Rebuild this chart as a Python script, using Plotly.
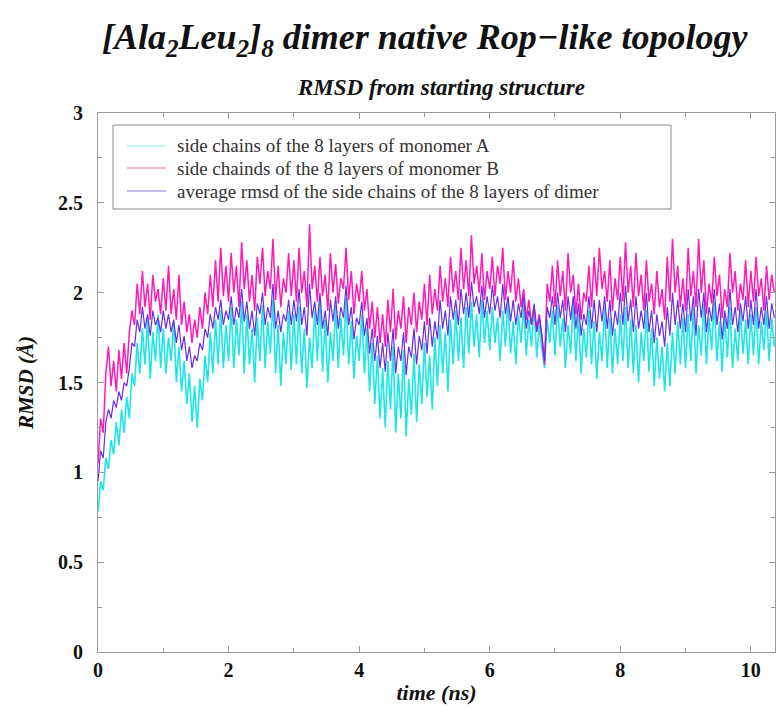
import numpy as np
import plotly.graph_objects as go

# ---------------- data (RMSD in Angstrom, sampled every 0.04 ns) ----------------
TIME_STEP_NS = 0.04

rmsd_monomer_A = [
    0.78, 0.95, 0.90, 1.08, 1.02, 1.18, 1.10, 1.28, 1.15, 1.35, 1.22, 1.42, 1.30, 1.55, 1.48, 1.72, 1.55, 1.80, 1.60, 1.85, 1.52, 1.78, 1.62, 1.88, 1.58,
    1.80, 1.55, 1.75, 1.62, 1.84, 1.50, 1.70, 1.45, 1.62, 1.38, 1.55, 1.28, 1.48, 1.25, 1.52, 1.40, 1.65, 1.50, 1.78, 1.55, 1.85, 1.60, 1.90, 1.58, 1.82,
    1.62, 1.92, 1.58, 1.85, 1.65, 1.95, 1.55, 1.88, 1.60, 1.80, 1.50, 1.86, 1.62, 1.93, 1.58, 1.84, 1.66, 1.96, 1.55, 1.82, 1.48, 1.78, 1.60, 1.90, 1.57,
    1.88, 1.60, 1.92, 1.55, 1.80, 1.47, 1.75, 1.58, 1.90, 1.62, 1.95, 1.56, 1.85, 1.50, 1.78, 1.62, 1.93, 1.58, 1.86, 1.65, 1.97, 1.60, 1.84, 1.52, 1.76,
    1.62, 1.88, 1.55, 1.80, 1.45, 1.72, 1.38, 1.65, 1.30, 1.58, 1.25, 1.62, 1.35, 1.70, 1.22, 1.55, 1.30, 1.68, 1.20, 1.52, 1.32, 1.66, 1.28, 1.60, 1.38,
    1.72, 1.42, 1.65, 1.35, 1.75, 1.48, 1.82, 1.55, 1.78, 1.45, 1.85, 1.60, 1.90, 1.62, 1.86, 1.58, 1.92, 1.66, 1.95, 1.70, 1.88, 1.64, 1.96, 1.72, 1.90,
    1.68, 1.92, 1.72, 1.86, 1.62, 1.90, 1.70, 1.95, 1.66, 1.84, 1.60, 1.88, 1.72, 1.93, 1.65, 1.85, 1.70, 1.92, 1.64, 1.82, 1.68, 1.58, 1.85, 1.72, 1.90,
    1.65, 1.93, 1.70, 1.86, 1.58, 1.82, 1.66, 1.95, 1.62, 1.88, 1.55, 1.80, 1.64, 1.90, 1.60, 1.84, 1.52, 1.78, 1.62, 1.92, 1.58, 1.86, 1.55, 1.80, 1.60,
    1.88, 1.62, 1.92, 1.58, 1.85, 1.55, 1.82, 1.50, 1.78, 1.62, 1.90, 1.56, 1.80, 1.48, 1.75, 1.52, 1.70, 1.45, 1.72, 1.48, 1.78, 1.55, 1.84, 1.60, 1.86,
    1.58, 1.88, 1.62, 1.92, 1.55, 1.82, 1.65, 1.94, 1.60, 1.86, 1.68, 1.95, 1.62, 1.84, 1.56, 1.88, 1.64, 1.92, 1.58, 1.80, 1.62, 1.90, 1.66, 1.85, 1.60,
    1.88, 1.65, 1.92, 1.60, 1.84, 1.68, 1.90, 1.62, 1.86, 1.70,
]

rmsd_monomer_B = [
    1.05, 1.30, 1.22, 1.55, 1.70, 1.48, 1.62, 1.45, 1.68, 1.52, 1.72, 1.55, 1.78, 1.90, 1.82, 2.05, 1.88, 2.12, 1.92, 2.05, 1.85, 2.10, 1.95, 2.02, 1.88,
    2.08, 1.90, 2.15, 1.88, 2.02, 1.85, 2.10, 1.82, 1.95, 1.78, 1.88, 1.72, 1.85, 1.75, 1.92, 1.80, 2.00, 1.88, 2.10, 1.92, 2.18, 1.95, 2.25, 1.98, 2.15,
    1.95, 2.22, 2.00, 2.15, 1.92, 2.28, 2.02, 2.18, 1.95, 2.10, 1.90, 2.20, 2.05, 2.25, 1.98, 2.12, 2.02, 2.30, 1.96, 2.15, 1.92, 2.08, 2.00, 2.22, 1.98,
    2.18, 1.95, 2.25, 2.00, 2.12, 1.92, 2.38, 2.02, 2.15, 1.95, 2.20, 1.98, 2.10, 1.90, 2.22, 2.00, 2.16, 1.94, 2.08, 2.02, 2.25, 1.96, 2.12, 1.88, 2.05,
    1.95, 2.12, 1.90, 2.02, 1.80, 1.95, 1.75, 1.92, 1.72, 1.88, 1.70, 1.96, 1.78, 2.02, 1.74, 1.90, 1.80, 1.98, 1.72, 1.92, 1.82, 2.00, 1.78, 1.95, 1.85,
    2.05, 1.82, 2.10, 1.88, 2.02, 1.90, 2.15, 1.95, 2.08, 1.92, 2.20, 2.00, 2.12, 1.96, 2.25, 2.02, 2.18, 1.98, 2.32, 2.05, 2.15, 2.00, 2.22, 1.96, 2.12,
    2.02, 2.20, 1.98, 2.15, 2.05, 2.25, 1.96, 2.12, 2.00, 2.18, 1.95, 2.08, 1.92, 2.02, 1.85, 1.96, 1.82, 1.92, 1.80, 1.88, 1.75, 1.60, 2.05, 1.95, 2.15,
    1.92, 2.18, 1.98, 2.12, 1.90, 2.22, 2.00, 2.10, 1.88, 2.05, 1.85, 2.00, 1.95, 2.15, 1.92, 2.20, 1.98, 2.25, 2.02, 2.12, 1.95, 2.18, 1.90, 2.08, 1.96,
    2.20, 1.95, 2.28, 2.00, 2.15, 1.92, 2.22, 1.98, 2.10, 1.90, 2.18, 1.95, 2.05, 1.88, 2.12, 1.92, 2.02, 1.85, 2.20, 1.95, 2.30, 2.00, 2.15, 1.92, 2.08,
    1.90, 2.25, 1.98, 2.12, 1.92, 2.30, 2.00, 2.18, 1.88, 2.05, 1.94, 2.20, 1.98, 2.10, 1.86, 2.02, 1.92, 2.22, 2.00, 2.12, 1.90, 2.05, 1.96, 2.18, 1.92,
    2.12, 1.95, 2.20, 1.98, 2.08, 1.90, 2.15, 1.96, 2.10, 2.00,
]

rmsd_dimer_avg = [
    0.95, 1.12, 1.08, 1.28, 1.35, 1.30, 1.40, 1.36, 1.45, 1.40, 1.50, 1.48, 1.58, 1.72, 1.70, 1.85, 1.78, 1.92, 1.80, 1.88, 1.76, 1.90, 1.82, 1.86, 1.78,
    1.90, 1.80, 1.88, 1.78, 1.85, 1.72, 1.82, 1.68, 1.76, 1.62, 1.70, 1.58, 1.65, 1.62, 1.72, 1.68, 1.80, 1.75, 1.88, 1.80, 1.92, 1.85, 1.96, 1.82, 1.90,
    1.85, 1.98, 1.82, 1.92, 1.86, 2.02, 1.84, 1.95, 1.80, 1.90, 1.76, 1.94, 1.88, 2.00, 1.82, 1.92, 1.86, 2.05, 1.80, 1.90, 1.78, 1.88, 1.84, 1.96, 1.82,
    1.96, 1.84, 2.02, 1.82, 1.92, 1.76, 2.05, 1.86, 1.95, 1.82, 2.00, 1.80, 1.90, 1.76, 1.96, 1.84, 1.98, 1.80, 1.92, 1.86, 2.04, 1.82, 1.92, 1.74, 1.86,
    1.82, 1.95, 1.76, 1.86, 1.66, 1.80, 1.62, 1.76, 1.58, 1.72, 1.56, 1.78, 1.62, 1.80, 1.55, 1.70, 1.62, 1.78, 1.54, 1.70, 1.64, 1.80, 1.60, 1.76, 1.68,
    1.84, 1.66, 1.86, 1.70, 1.84, 1.74, 1.96, 1.80, 1.90, 1.76, 1.98, 1.85, 1.96, 1.82, 2.02, 1.88, 2.00, 1.86, 2.06, 1.92, 1.98, 1.88, 2.04, 1.86, 1.98,
    1.88, 2.04, 1.90, 1.98, 1.86, 2.05, 1.88, 1.98, 1.84, 1.96, 1.82, 1.94, 1.86, 1.98, 1.80, 1.90, 1.82, 1.94, 1.78, 1.86, 1.76, 1.62, 1.92, 1.86, 1.98,
    1.82, 2.00, 1.86, 1.96, 1.78, 1.98, 1.85, 1.98, 1.80, 1.94, 1.76, 1.88, 1.82, 1.98, 1.80, 1.96, 1.78, 1.96, 1.84, 1.98, 1.80, 1.96, 1.76, 1.90, 1.82,
    2.00, 1.82, 2.04, 1.84, 1.96, 1.78, 1.98, 1.80, 1.90, 1.80, 2.00, 1.78, 1.90, 1.72, 1.88, 1.76, 1.84, 1.70, 1.92, 1.76, 2.00, 1.82, 1.96, 1.80, 1.94,
    1.78, 2.02, 1.84, 1.98, 1.76, 2.02, 1.86, 2.00, 1.78, 1.92, 1.84, 2.02, 1.82, 1.94, 1.74, 1.90, 1.80, 2.02, 1.82, 1.92, 1.78, 1.94, 1.84, 1.98, 1.80,
    1.96, 1.82, 2.02, 1.80, 1.92, 1.82, 1.98, 1.80, 1.94, 1.86,
]

time_ns = np.arange(len(rmsd_monomer_A)) * TIME_STEP_NS

series_names = [
    "side chains of the 8 layers of monomer A",
    "side chainds of the 8 layers of monomer B",
    "average rmsd of the side chains of the 8 layers of dimer",
]
x_tick_vals = [0, 2, 4, 6, 8, 10]
y_tick_vals = [0, 0.5, 1, 1.5, 2, 2.5, 3]
y_tick_text = ["0", "0.5", "1", "1.5", "2", "2.5", "3"]

# ---------------- styling ----------------
SERIF = "Liberation Serif"
line_colors = ["#1ee6e6", "#ff1ab8", "#6a2ee0"]
legend_colors = ["#c4f2f2", "#f7b8da", "#c2bae8"]
line_widths = [1.6, 1.5, 1.2]

# plot-area geometry in pixels (used to place layout decorations)
L, T, R, B = 98, 113, 1, 64
W, H = 776, 716
PW, PH = W - L - R, H - T - B


def px_x(px):
    return (px - L) / PW


def px_y(py):
    return (H - B - py) / PH


fig = go.Figure()
for ys, col, w, name in zip([rmsd_monomer_A, rmsd_monomer_B, rmsd_dimer_avg],
                            line_colors, line_widths, series_names):
    fig.add_trace(go.Scatter(x=time_ns, y=ys, mode="lines", name=name,
                             line=dict(color=col, width=w), showlegend=False,
                             hovertemplate="%{x:.2f} ns, %{y:.2f} Å<extra></extra>"))

axis_line = "#9a9a9a"
fig.update_layout(
    width=W, height=H,
    margin=dict(l=L, r=R, t=T, b=B),
    paper_bgcolor="white", plot_bgcolor="white",
    font=dict(family=SERIF, color="#111"),
    showlegend=False,
    xaxis=dict(range=[0, 10.37], tickvals=x_tick_vals,
               ticks="inside", ticklen=6, tickcolor=axis_line,
               minor=dict(dtick=1, ticks="inside", ticklen=4, tickcolor=axis_line),
               showline=True, linecolor=axis_line, linewidth=1, mirror="ticks",
               showgrid=False, zeroline=False,
               tickfont=dict(family=SERIF, size=20, color="#111", weight="bold"),
               title=dict(text="<b><i>time (ns)</i></b>", standoff=4,
                          font=dict(family=SERIF, size=22, color="#111"))),
    yaxis=dict(range=[0, 3], tickvals=y_tick_vals, ticktext=y_tick_text,
               ticks="inside", ticklen=6, tickcolor=axis_line,
               minor=dict(dtick=0.25, ticks="inside", ticklen=4, tickcolor=axis_line),
               showline=True, linecolor=axis_line, linewidth=1, mirror="ticks",
               showgrid=False, zeroline=False,
               tickfont=dict(family=SERIF, size=20, color="#111", weight="bold"),
               ticklabelstandoff=10,
               title=dict(text="<b><i>RMSD (Å)</i></b>", standoff=18,
                          font=dict(family=SERIF, size=21, color="#111"))),
)

# legend: frame, sample lines and labels
fig.add_shape(type="rect", xref="paper", yref="paper",
              x0=px_x(113), x1=px_x(671), y0=px_y(209), y1=px_y(125),
              line=dict(color="#8a8a8a", width=1), fillcolor="white", layer="above")
legend_rows_px = [146, 168, 191]
for name, col, ry in zip(series_names, legend_colors, legend_rows_px):
    fig.add_shape(type="line", xref="paper", yref="paper",
                  x0=px_x(127), x1=px_x(166), y0=px_y(ry), y1=px_y(ry),
                  line=dict(color=col, width=2), layer="above")
    fig.add_annotation(x=px_x(175), y=px_y(ry), xref="paper", yref="paper",
                       text=name, showarrow=False, xanchor="left", yanchor="middle",
                       font=dict(family=SERIF, size=19, color="#333"))

# title + subtitle
fig.add_annotation(x=px_x(425), y=px_y(40), xref="paper", yref="paper",
                   text="<b><i>[Ala<sub>2</sub>Leu<sub>2</sub>]<sub>8</sub> dimer native Rop−like topology</i></b>",
                   showarrow=False, xanchor="center", yanchor="middle",
                   font=dict(family=SERIF, size=36, color="#111"))
fig.add_annotation(x=px_x(441), y=px_y(88), xref="paper", yref="paper",
                   text="<b><i>RMSD from starting structure</i></b>",
                   showarrow=False, xanchor="center", yanchor="middle",
                   font=dict(family=SERIF, size=23, color="#111"))

fig.write_html("out.html")
